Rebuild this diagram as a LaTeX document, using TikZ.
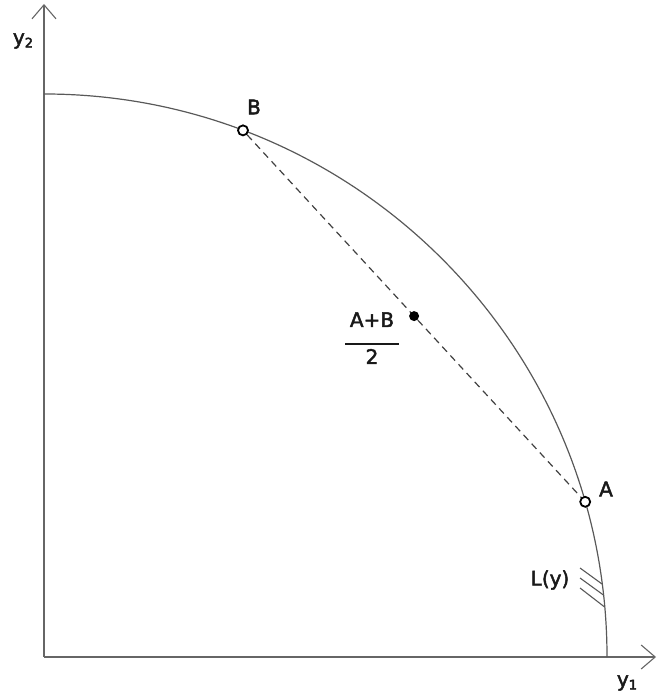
\documentclass[tikz,border=0pt]{standalone}
\usepackage{fontspec}
\setmainfont{DejaVu Sans}
\usetikzlibrary{arrows.meta,calc}
\newcommand{\heavytext}{\special{pdf:literal direct 2 Tr 0.45 w}}
\tikzset{
  axis/.style={draw=black!60, line width=1.2pt, -{Straight Barb[length=14pt,width=24pt,line width=1.1pt]}},
  curve/.style={draw=black!65, line width=1.2pt},
  chord/.style={draw=black!75, line width=1.2pt, dash pattern=on 7pt off 5pt},
  hollow/.style={circle, draw=black, line width=1.8pt, fill=white, minimum size=10pt, inner sep=0pt},
  solid dot/.style={circle, fill=black, minimum size=10pt, inner sep=0pt},
  lbl/.style={font=\fontsize{20}{22}\selectfont\heavytext, text=black!90, draw=none, inner sep=1pt},
  hatch/.style={draw=black!65, line width=1.1pt}
}
\newcommand{\subs}[1]{\raisebox{-3pt}{\fontsize{13}{13}\selectfont #1}}
\begin{document}
\begin{tikzpicture}[x=1pt,y=1pt]
\useasboundingbox (0,0) rectangle (657,695);
\coordinate (O) at (44,38);
\coordinate (ytop) at (44,691);
\coordinate (xend) at (656,38);
\draw[axis] (O) -- (ytop);
\draw[axis] (O) -- (xend);
\draw[curve] ($(O)+(0,563)$) arc[start angle=90, end angle=0, radius=563];
\coordinate (Apos) at ($(O)+(16:563)$);
\coordinate (Bpos) at ($(O)+(69.3:563)$);
\draw[chord] (Apos) -- (Bpos);
\node[hollow] (A) at (Apos) {};
\node[hollow] (B) at (Bpos) {};
\node[solid dot] (M) at ($(Apos)!0.5!(Bpos)$) {};
\node[lbl] (Alab) at (606,206) {A};
\node[lbl] (Blab) at (254,588) {B};
\node[lbl, align=center] (frac) at (372,354) {%
  \begin{tabular}{@{}c@{}}A+B\\[-4pt]\rule{54pt}{1.5pt}\\[-3pt]2\end{tabular}};
\node[lbl] (Llab) at (550,115) {L(y)};
\node[lbl] (y2) at (23,654) {y\subs{2}};
\node[lbl] (y1) at (627,12) {y\subs{1}};
\draw[hatch] (580,127) -- (602,111);
\draw[hatch] (580,117) -- (603.4,100);
\draw[hatch] (580,107) -- (604.6,88);
\end{tikzpicture}
\end{document}
